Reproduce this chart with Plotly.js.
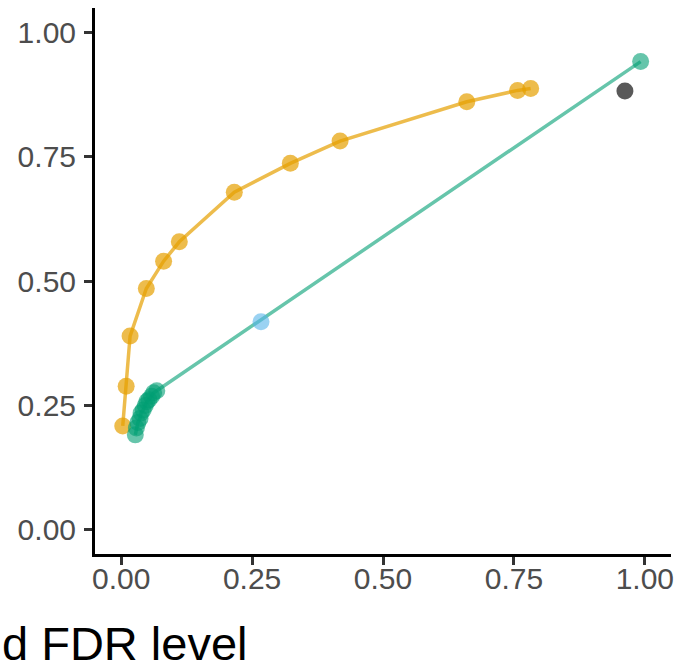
<!DOCTYPE html>
<html>
<head>
<meta charset="utf-8">
<script src="https://cdn.plot.ly/plotly-3.0.1.min.js"></script>
<style>html,body{margin:0;padding:0;background:#fff;}#chart{width:677px;height:671px;}</style>
</head>
<body>
<div id="chart"></div>
<script>
// Orange series
const orangeX = [0.003, 0.0095, 0.017, 0.048, 0.081, 0.111, 0.216, 0.323, 0.418, 0.660, 0.757, 0.782];
const orangeY = [0.208, 0.288, 0.389, 0.485, 0.540, 0.579, 0.679, 0.737, 0.782, 0.861, 0.884, 0.888];
// Green series
const greenX = [0.027, 0.029, 0.032, 0.036, 0.038, 0.042, 0.046, 0.049, 0.053, 0.058, 0.062, 0.068, 0.992];
const greenY = [0.190, 0.204, 0.215, 0.223, 0.234, 0.240, 0.249, 0.257, 0.261, 0.268, 0.275, 0.279, 0.942];
// Blue point
const blueX = [0.267];
const blueY = [0.418];
// Dark point
const darkX = [0.962];
const darkY = [0.883];
// Axis ticks
const tickVals = [0, 0.25, 0.5, 0.75, 1];
const tickText = ["0.00", "0.25", "0.50", "0.75", "1.00"];
const xTitle = "d FDR level";

const orange = "rgba(230,159,0,0.7)";
const green = "rgba(0,158,115,0.6)";
const blue = "rgba(86,180,233,0.6)";
const dark = "rgba(0,0,0,0.65)";
const msize = 17;

const traces = [
  {x: orangeX, y: orangeY, mode: "lines", line: {color: orange, width: 3.5}, hoverinfo: "skip"},
  {x: greenX, y: greenY, mode: "lines", line: {color: green, width: 3.5}, hoverinfo: "skip"},
  {x: orangeX, y: orangeY, mode: "markers", marker: {color: orange, size: msize, line: {width: 0}}},
  {x: greenX, y: greenY, mode: "markers", marker: {color: green, size: msize, line: {width: 0}}},
  {x: blueX, y: blueY, mode: "markers", marker: {color: blue, size: msize, line: {width: 0}}},
  {x: darkX, y: darkY, mode: "markers", marker: {color: dark, size: msize, line: {width: 0}}}
];

const tickFont = {family: "Liberation Sans, Arial, sans-serif", size: 30, color: "#4D4D4D"};
const L = 95, R = 6, T = 8, B = 117;
const W = 677, H = 671;
const pw = W - L - R, ph = H - T - B;

const layout = {
  width: W, height: H,
  margin: {l: L, r: R, t: T, b: B, pad: 0},
  paper_bgcolor: "#ffffff", plot_bgcolor: "#ffffff",
  showlegend: false,
  xaxis: {
    range: [-0.05, 1.05], showgrid: false, zeroline: false,
    showline: true, linecolor: "#000", linewidth: 3,
    ticks: "outside", ticklen: 8, tickwidth: 3, tickcolor: "#333",
    tickvals: tickVals, ticktext: tickText, tickfont: tickFont,
    ticklabelstandoff: -12
  },
  yaxis: {
    range: [-0.05, 1.05], showgrid: false, zeroline: false,
    showline: true, linecolor: "#000", linewidth: 3,
    ticks: "outside", ticklen: 8, tickwidth: 3, tickcolor: "#333",
    tickvals: tickVals, ticktext: tickText, tickfont: tickFont,
    ticklabelstandoff: 2
  },
  annotations: [{
    text: xTitle, xref: "paper", yref: "paper",
    x: -L / pw, xanchor: "left",
    y: -(643 - (T + ph)) / ph, yanchor: "middle",
    showarrow: false,
    font: {family: "Liberation Sans, Arial, sans-serif", size: 47, color: "#000"}
  }]
};

Plotly.newPlot("chart", traces, layout, {staticPlot: true, displayModeBar: false});
</script>
</body>
</html>
